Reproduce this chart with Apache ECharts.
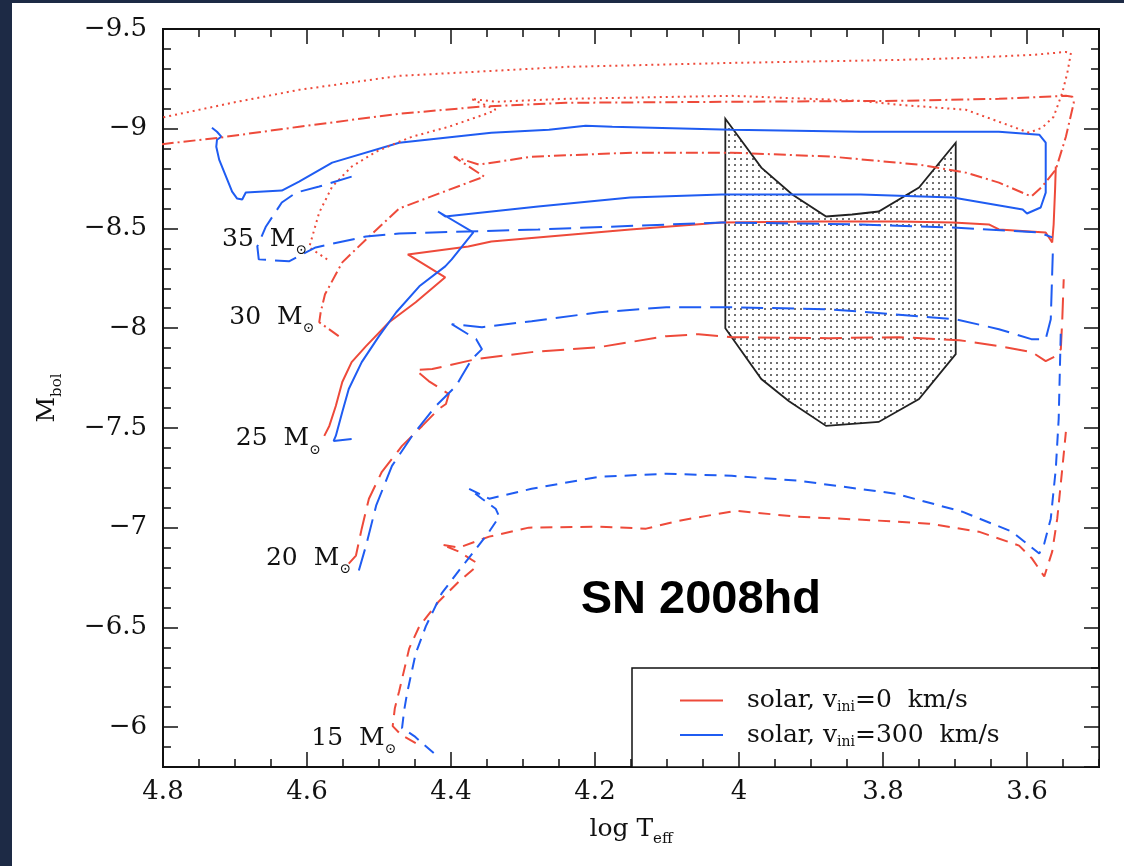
<!DOCTYPE html>
<html>
<head>
<meta charset="utf-8">
<script src="https://cdn.jsdelivr.net/npm/echarts@6/dist/echarts.min.js"></script>
<style>
html, body { margin: 0; padding: 0; background: #1d2a45; }
#panel { position: absolute; left: 12px; top: 3px; width: 1112px; height: 863px; background: #fff; }
#chart { position: absolute; left: 0; top: 0; width: 1124px; height: 866px; }
</style>
</head>
<body>
<div id="panel"></div>
<div id="chart"></div>
<script>
// tick values
const majorLogT = [3.6, 3.8, 4, 4.2, 4.4, 4.6, 4.8];

// 35 Msun, v=0 (dotted)
const r35LogT = [4.572,4.597,4.583,4.565,4.538,4.504,4.475,4.454,4.403,4.347,4.338,4.372,4.338,4.240,4.010,3.831,3.778,3.685,3.639,3.597,3.579,3.563,3.551,3.544,3.539,3.546,3.593,3.685,3.778,4.010,4.240,4.472,4.611,4.704,4.796,4.833];
const r35Mbol = [-8.345,-8.405,-8.58,-8.71,-8.81,-8.885,-8.93,-8.96,-9.01,-9.08,-9.095,-9.15,-9.135,-9.15,-9.165,-9.14,-9.12,-9.095,-9.035,-8.98,-9.005,-9.06,-9.18,-9.28,-9.38,-9.385,-9.37,-9.355,-9.345,-9.33,-9.31,-9.265,-9.195,-9.13,-9.06,-9.03];

// 30 Msun, v=0 (dash-dot)
const r30LogT = [4.556,4.583,4.581,4.575,4.551,4.518,4.472,4.354,4.396,4.361,4.288,4.149,4.010,3.871,3.750,3.685,3.639,3.594,3.579,3.560,3.546,3.535,3.537,3.546,3.639,3.778,4.010,4.240,4.361,4.472,4.611,4.722,4.796,4.833];
const r30Mbol = [-7.96,-8.03,-8.08,-8.17,-8.33,-8.445,-8.6,-8.76,-8.86,-8.82,-8.86,-8.88,-8.88,-8.86,-8.82,-8.78,-8.73,-8.66,-8.71,-8.795,-8.96,-9.13,-9.16,-9.165,-9.15,-9.14,-9.135,-9.13,-9.11,-9.075,-9.01,-8.955,-8.925,-8.905];

// 25 Msun (solid)
const r25LogT = [4.576,4.569,4.560,4.551,4.538,4.518,4.486,4.449,4.408,4.460,4.376,4.344,4.151,4.024,3.894,3.778,3.703,3.653,3.639,3.574,3.565,3.563,3.561,3.560];
const r25Mbol = [-7.46,-7.51,-7.61,-7.73,-7.83,-7.91,-8.03,-8.13,-8.255,-8.37,-8.41,-8.435,-8.495,-8.53,-8.535,-8.535,-8.53,-8.52,-8.495,-8.48,-8.43,-8.52,-8.695,-8.81];
const b25LogT = [4.538,4.563,4.560,4.551,4.542,4.524,4.500,4.476,4.444,4.408,4.399,4.369,4.418,4.408,4.279,4.151,4.024,3.831,3.703,3.606,3.600,3.581,3.574,3.574,3.583,3.639,3.831,4.010,4.176,4.213,4.264,4.344,4.472,4.565,4.611,4.635,4.685,4.690,4.697,4.704,4.722,4.726,4.725,4.719,4.725,4.732];
const b25Mbol = [-7.445,-7.435,-7.46,-7.58,-7.695,-7.83,-7.96,-8.08,-8.21,-8.31,-8.345,-8.48,-8.585,-8.56,-8.61,-8.655,-8.67,-8.67,-8.655,-8.595,-8.575,-8.605,-8.68,-8.93,-8.97,-8.985,-8.985,-8.995,-9.01,-9.015,-8.995,-8.98,-8.93,-8.83,-8.735,-8.69,-8.68,-8.645,-8.65,-8.685,-8.845,-8.91,-8.945,-8.96,-8.985,-9.005];

// 35 Msun, v=300 (long dash)
const b35LogT = [4.538,4.583,4.615,4.635,4.657,4.669,4.667,4.625,4.588,4.518,4.472,4.279,4.024,3.831,3.703,3.583,3.565];
const b35Mbol = [-8.76,-8.71,-8.68,-8.63,-8.51,-8.41,-8.345,-8.335,-8.405,-8.46,-8.475,-8.495,-8.53,-8.52,-8.505,-8.48,-8.455];

// 20 Msun (long dash)
const r20LogT = [4.542,4.532,4.524,4.514,4.496,4.468,4.440,4.417,4.407,4.403,4.431,4.449,4.426,4.365,4.288,4.194,4.101,4.056,4.010,3.875,3.778,3.694,3.639,3.593,3.574,3.560,3.553,3.551,3.549];
const r20Mbol = [-6.82,-6.86,-6.995,-7.145,-7.28,-7.41,-7.51,-7.595,-7.62,-7.67,-7.735,-7.79,-7.795,-7.845,-7.88,-7.905,-7.96,-7.97,-7.955,-7.95,-7.955,-7.94,-7.91,-7.88,-7.835,-7.86,-7.895,-8.045,-8.245];
const b20LogT = [4.528,4.518,4.504,4.482,4.454,4.421,4.393,4.385,4.371,4.357,4.365,4.399,4.357,4.288,4.194,4.101,4.010,3.875,3.699,3.639,3.594,3.574,3.567,3.564];
const b20Mbol = [-6.785,-6.91,-7.11,-7.31,-7.46,-7.61,-7.71,-7.76,-7.845,-7.895,-7.945,-8.02,-8.005,-8.035,-8.08,-8.105,-8.105,-8.095,-8.045,-7.995,-7.945,-7.945,-8.045,-8.395];

// 15 Msun (short dash)
const r15LogT = [4.449,4.469,4.481,4.478,4.472,4.458,4.444,4.417,4.389,4.368,4.365,4.389,4.413,4.389,4.347,4.292,4.194,4.129,4.083,4.004,3.921,3.829,3.736,3.667,3.611,3.593,3.576,3.565,3.558,3.551,3.546];
const r15Mbol = [-5.92,-5.96,-6.005,-6.095,-6.18,-6.395,-6.505,-6.63,-6.73,-6.795,-6.825,-6.88,-6.915,-6.9,-6.955,-7.0,-7.005,-6.995,-7.035,-7.085,-7.055,-7.04,-7.02,-6.98,-6.91,-6.845,-6.755,-6.88,-7.045,-7.295,-7.48];
const b15LogT = [4.424,4.451,4.468,4.465,4.461,4.449,4.435,4.413,4.389,4.365,4.347,4.333,4.338,4.357,4.375,4.347,4.288,4.194,4.101,4.010,3.917,3.782,3.690,3.621,3.583,3.576,3.567,3.560,3.556,3.553];
const b15Mbol = [-5.87,-5.955,-5.995,-6.085,-6.17,-6.37,-6.505,-6.67,-6.785,-6.895,-6.98,-7.055,-7.095,-7.145,-7.195,-7.145,-7.195,-7.255,-7.27,-7.26,-7.235,-7.17,-7.08,-6.98,-6.87,-6.92,-7.045,-7.295,-7.545,-7.995];

// SN 2008hd progenitor region
const regionLogT = [4.019,3.969,3.926,3.879,3.843,3.806,3.750,3.699,3.699,3.750,3.806,3.879,3.931,3.969,4.019];
const regionMbol = [-9.05,-8.805,-8.67,-8.56,-8.57,-8.585,-8.705,-8.93,-7.87,-7.645,-7.53,-7.51,-7.635,-7.745,-8.0];

// mass labels
const massNames = ['35', '30', '25', '20', '15'];
const massLabelLogT = [4.718, 4.708, 4.699, 4.657, 4.594];
const massLabelMbol = [-8.445, -8.055, -7.445, -6.845, -5.945];

const RED = '#ee4a3a';
const BLUE = '#1f5cf2';
const INK = '#111';
const SERIF = '"DejaVu Serif", serif';
const LEG0 = 'solar, vini=0 km/s';
const LEG300 = 'solar, vini=300 km/s';

const tracks = [
    { leg: LEG0, color: RED, dash: 'solid', t: r25LogT, m: r25Mbol },
    { leg: LEG300, color: BLUE, dash: 'solid', t: b25LogT, m: b25Mbol },
    { leg: LEG0, color: RED, dash: [2, 4], t: r35LogT, m: r35Mbol },
    { leg: LEG0, color: RED, dash: [12, 4, 2, 4], t: r30LogT, m: r30Mbol },
    { leg: LEG300, color: BLUE, dash: [22, 9], t: b35LogT, m: b35Mbol },
    { leg: LEG0, color: RED, dash: [22, 9], t: r20LogT, m: r20Mbol },
    { leg: LEG300, color: BLUE, dash: [22, 9], t: b20LogT, m: b20Mbol },
    { leg: LEG0, color: RED, dash: [12, 8], t: r15LogT, m: r15Mbol },
    { leg: LEG300, color: BLUE, dash: [12, 8], t: b15LogT, m: b15Mbol }
];

function zip(a, b) {
    return a.map((v, i) => [v, b[i]]);
}

// dot fill for the region
const dots = document.createElement('canvas');
dots.width = 6;
dots.height = 6;
const dctx = dots.getContext('2d');
dctx.fillStyle = '#333';
dctx.beginPath();
dctx.arc(3, 3, 0.95, 0, Math.PI * 2);
dctx.fill();

const chart = echarts.init(document.getElementById('chart'));

const tickStyle = { color: INK, width: 1.5 };
const subRich = {
    t: { fontFamily: SERIF, fontSize: 25, color: INK, lineHeight: 36 },
    s: { fontFamily: SERIF, fontSize: 15, color: INK, lineHeight: 14, verticalAlign: 'bottom' }
};

function xAxisDef(pos, minor) {
    return {
        type: 'value', position: pos, min: 3.5, max: 4.8, inverse: true, z: 5,
        interval: minor ? 0.05 : undefined,
        axisLine: { show: false, onZero: false },
        splitLine: { show: false },
        axisTick: minor
            ? { inside: true, length: 8, lineStyle: tickStyle }
            : { inside: true, length: 15, lineStyle: tickStyle, customValues: majorLogT },
        axisLabel: (pos === 'bottom' && !minor)
            ? { customValues: majorLogT, margin: 12, fontFamily: SERIF, fontSize: 26, color: INK,
                formatter: v => String(+(+v).toFixed(1)) }
            : { show: false }
    };
}

function yAxisDef(pos, minor) {
    return {
        type: 'value', position: pos, min: -9.5, max: -5.8, inverse: true, z: 5,
        interval: minor ? 0.1 : 0.5,
        axisLine: { show: false, onZero: false },
        splitLine: { show: false },
        axisTick: { inside: true, length: minor ? 8 : 15, lineStyle: tickStyle },
        axisLabel: (pos === 'left' && !minor)
            ? { margin: 16, fontFamily: SERIF, fontSize: 26, color: INK,
                formatter: v => (Math.abs(v * 2 - Math.round(v * 2)) < 1e-6 && v < -5.9)
                    ? String(+(+v).toFixed(1)).replace('-', '\u2212') : '' }
            : { show: false }
    };
}

const xAxes = [xAxisDef('bottom', false), xAxisDef('top', false), xAxisDef('bottom', true), xAxisDef('top', true)];
xAxes[0].name = '{t|log T}{s|eff}';
xAxes[0].nameLocation = 'middle';
xAxes[0].nameGap = 44;
xAxes[0].nameTextStyle = { rich: subRich };

const yAxes = [yAxisDef('left', false), yAxisDef('right', false), yAxisDef('left', true), yAxisDef('right', true)];
yAxes[0].name = '{t|M}{s|bol}';
yAxes[0].nameLocation = 'middle';
yAxes[0].nameRotate = 90;
yAxes[0].nameGap = 98;
yAxes[0].nameTextStyle = { rich: subRich };

const series = tracks.map(tr => ({
    type: 'line',
    name: tr.leg,
    data: zip(tr.t, tr.m),
    showSymbol: false,
    symbol: 'none',
    silent: true,
    z: 3,
    lineStyle: { color: tr.color, width: 2, type: tr.dash, cap: 'butt' },
    itemStyle: { color: tr.color }
}));

series.unshift({
    type: 'custom',
    name: 'region',
    data: [[regionLogT[0], regionMbol[0]]],
    z: 1,
    silent: true,
    renderItem: function (params, api) {
        return {
            type: 'polygon',
            shape: { points: regionLogT.map((t, i) => api.coord([t, regionMbol[i]])) },
            style: { fill: { image: dots, repeat: 'repeat' }, stroke: '#222', lineWidth: 1.8 }
        };
    }
});

// mass labels, anchored at their left edge
series.push({
    type: 'custom',
    name: 'masses',
    data: massNames.map((n, i) => [massLabelLogT[i], massLabelMbol[i], n]),
    z: 6,
    silent: true,
    renderItem: function (params, api) {
        const p = api.coord([api.value(0), api.value(1)]);
        return {
            type: 'text',
            x: p[0], y: p[1],
            style: {
                text: '{n|' + massNames[params.dataIndex] + '  M}{s|\u2299}',
                align: 'left', verticalAlign: 'middle',
                rich: {
                    n: { fontFamily: SERIF, fontSize: 25, fill: INK, lineHeight: 36 },
                    s: { fontFamily: SERIF, fontSize: 14, fill: INK, lineHeight: 14, verticalAlign: 'bottom' }
                }
            }
        };
    }
});

series.push({
    type: 'custom',
    name: 'sn',
    data: [[4.053, -6.635]],
    z: 6,
    silent: true,
    renderItem: function (params, api) {
        const p = api.coord([api.value(0), api.value(1)]);
        return {
            type: 'text',
            x: p[0], y: p[1],
            style: {
                text: 'SN 2008hd',
                align: 'center', verticalAlign: 'middle',
                font: 'bold 47px "Liberation Sans", Arial, sans-serif',
                fill: '#000'
            }
        };
    }
});

chart.setOption({
    animation: false,
    backgroundColor: 'transparent',
    grid: {
        left: 163, right: 25, top: 29, bottom: 99,
        show: true, borderColor: INK, borderWidth: 2,
        backgroundColor: 'transparent',
        outerBoundsMode: 'none'
    },
    xAxis: xAxes,
    yAxis: yAxes,
    graphic: [{
        type: 'rect', z: 1, silent: true,
        shape: { x: 632, y: 668, width: 467, height: 99 },
        style: { fill: '#fff', stroke: INK, lineWidth: 1.5 }
    }],
    legend: {
        data: [LEG0, LEG300],
        orient: 'vertical',
        left: 675, top: 683,
        z: 7,
        icon: 'rect',
        itemWidth: 43, itemHeight: 2, itemGap: 8,
        selectedMode: false,
        formatter: name => name === LEG0
            ? '{t|solar, v}{s|ini}{t|=0  km/s}'
            : '{t|solar, v}{s|ini}{t|=300  km/s}',
        textStyle: {
            padding: [0, 0, 0, 19],
            rich: {
                t: { fontFamily: SERIF, fontSize: 25, color: INK, lineHeight: 28 },
                s: { fontFamily: SERIF, fontSize: 14, color: INK, lineHeight: 12, verticalAlign: 'bottom' }
            }
        }
    },
    series: series
});
</script>
</body>
</html>
